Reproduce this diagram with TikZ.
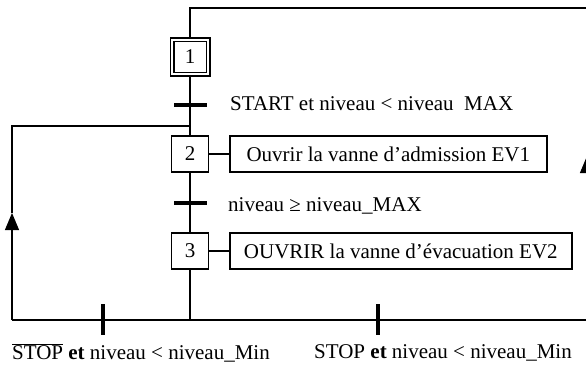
\documentclass[tikz,border=0pt]{standalone}
\usepackage{fontspec}
\setmainfont{Liberation Serif}
\usetikzlibrary{arrows.meta}
\begin{document}
\begin{tikzpicture}[x=1pt,y=-1pt,
  font=\fontsize{21}{25}\selectfont,
  stepbox/.style={draw,line width=1.6pt,minimum width=37pt,minimum height=36pt,inner sep=0pt},
  initbox/.style={draw,double,line width=1.6pt,double distance=1.8pt,minimum width=36pt,minimum height=34pt,inner sep=0pt},
  actbox/.style={draw,line width=1.6pt,minimum height=36pt,inner sep=0pt,anchor=west},
  link/.style={line width=1.1pt},
  hbar/.style={fill,minimum width=33pt,minimum height=4pt,inner sep=0pt},
  vbar/.style={fill,minimum width=4pt,minimum height=31pt,inner sep=0pt},
  lbl/.style={anchor=west,inner sep=0pt},
  up/.style={-{Triangle[width=14pt,length=17pt]}}]
\useasboundingbox (0,0) rectangle (586,369);
\clip (0,0) rectangle (586,369);
% steps
\node[initbox] (s1) at (190,57) {1};
\node[stepbox] (s2) at (190,154) {2};
\node[stepbox] (s3) at (190,251) {3};
% actions
\node[actbox,minimum width=317pt] (a2) at (229,154) {Ouvrir la vanne d’admission EV1};
\node[actbox,minimum width=342pt] (a3) at (229,251) {OUVRIR la vanne d’évacuation EV2};
% transitions
\node[hbar] (t1) at (190,105) {};
\node[hbar] (t2) at (190,203) {};
\node[vbar] (t3) at (103,319) {};
\node[vbar] (t4) at (378,319) {};
% corner coordinates
\coordinate (tl) at (190,8);
\coordinate (tr) at (587,8);
\coordinate (br) at (587,320);
\coordinate (ra) at (587,156);
\coordinate (bm) at (190,320);
\coordinate (bl) at (12,320);
\coordinate (la) at (12,213);
\coordinate (ul) at (12,126);
\coordinate (um) at (190,126);
% links
\draw[link] (s1.north) -- (tl) -- (tr);
\draw[link] (s1.south) -- (s2.north);
\draw[link] (s2.south) -- (s3.north);
\draw[link] (s3.south) -- (bm);
\draw[link] (s2.east) -- (a2.west);
\draw[link] (s3.east) -- (a3.west);
\draw[link] (bl) -- (br);
\draw[link,up] (bl) -- (la);
\draw[link] (la) -- (ul) -- (um);
\draw[link,up] (br) -- (ra);
\draw[link] (ra) -- (tr);
% labels
\node[lbl] (l1) at (230,104) {START et niveau < niveau~~MAX};
\node[lbl] (l2) at (228,206) {niveau ≥ niveau\_MAX};
\node[lbl] (l3) at (12,353) {$\overline{\mbox{STOP}}$ \textbf{et} niveau < niveau\_Min};
\node[lbl] (l4) at (314,353) {STOP \textbf{et} niveau < niveau\_Min};
\end{tikzpicture}
\end{document}
